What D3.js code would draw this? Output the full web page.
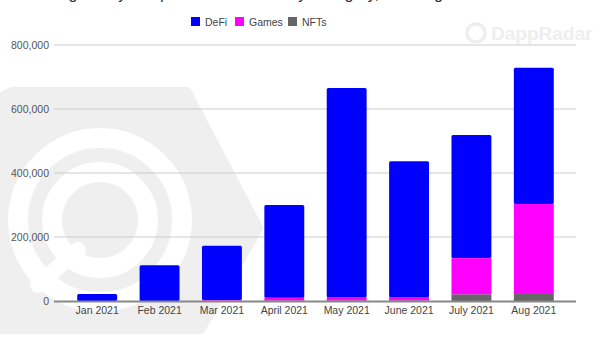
<!DOCTYPE html>
<html><head><meta charset="utf-8">
<script src="https://cdn.jsdelivr.net/npm/d3@7"></script>
<style>html,body{margin:0;padding:0;background:#fff;overflow:hidden}</style>
</head><body>
<svg id="c" width="600" height="341"></svg>
<script>
const months = ["Jan 2021","Feb 2021","Mar 2021","April 2021","May 2021","June 2021","July 2021","Aug 2021"];
const defi   = [22000,112000,170000,290000,654000,425000,385000,426000];
const games  = [0,0,2000,8000,10000,10000,113000,281000];
const nfts   = [0,0,1000,2000,2000,2000,21000,22000];
const seriesNames = ["NFTs","Games","DeFi"];
const legendNames = ["DeFi","Games","NFTs"];
const colors = {DeFi:"#0000ff", Games:"#ff00ff", NFTs:"#666666"};
const yTicks = [0,200000,400000,600000,800000];
const title = "Average Daily Unique Active Wallets by Category, Jan-Aug 2021";

const svg = d3.select("#c");
const font = "'Liberation Sans', Arial, sans-serif";

// watermark hexagon logo
const wm = svg.append("g");
wm.append("path")
  .attr("d","M12,93 L186,93 L257,228 L200,328 L-20,328 L-20,110 Z")
  .attr("fill","#efefef").attr("stroke","#efefef").attr("stroke-width",12).attr("stroke-linejoin","round");
wm.append("circle").attr("cx",100).attr("cy",220).attr("r",82).attr("fill","none").attr("stroke","#fff").attr("stroke-width",20);
wm.append("circle").attr("cx",100).attr("cy",220).attr("r",48).attr("fill","none").attr("stroke","#fff").attr("stroke-width",20);
wm.append("line").attr("x1",78).attr("y1",250).attr("x2",38).attr("y2",285).attr("stroke","#fff").attr("stroke-width",16).attr("stroke-linecap","round");
// top-right watermark
svg.append("circle").attr("cx",476).attr("cy",33).attr("r",9).attr("fill","none").attr("stroke","#eeeeee").attr("stroke-width",3.5);
svg.append("text").attr("x",491).attr("y",40).text("DappRadar")
  .attr("font-family",font).attr("font-weight","bold").attr("font-size",19).attr("fill","#eeeeee");

// title (cut off at top, as in the reference)
svg.append("text").attr("x",255).attr("y",-1).attr("text-anchor","middle")
  .attr("font-family",font).attr("font-size",16).attr("fill","#333").text(title);

const x = d3.scaleBand().domain(months).range([66,565]).paddingInner(0.36).paddingOuter(0.18);
const y = d3.scaleLinear().domain([0,800000]).range([301,45]);

// grid
svg.append("g").selectAll("line").data(yTicks.slice(1)).join("line")
  .attr("x1",54).attr("x2",576).attr("y1",d=>y(d)).attr("y2",d=>y(d))
  .attr("stroke","#cccccc").attr("stroke-width",1);

// y axis labels
const yAxis = svg.append("g").attr("transform","translate(54,0)")
  .call(d3.axisLeft(y).tickValues(yTicks).tickSize(0).tickPadding(5).tickFormat(d3.format(",")));
yAxis.select(".domain").remove();
yAxis.selectAll("text").attr("font-family",font).attr("font-size",10.5).attr("fill","#555");

// stacked bars
const data = months.map((m,i)=>({month:m, DeFi:defi[i], Games:games[i], NFTs:nfts[i]}));
const stack = d3.stack().keys(seriesNames)(data);
svg.append("g").selectAll("g").data(stack).join("g")
  .attr("fill",d=>colors[d.key])
  .selectAll("rect").data(d=>d.map(v=>({v,key:d.key}))).join("rect")
  .attr("x",d=>x(d.v.data.month))
  .attr("width",x.bandwidth())
  .attr("y",d=>y(d.v[1]))
  .attr("height",d=>Math.max(0,y(d.v[0])-y(d.v[1])))
  .attr("rx",d=>d.key==="DeFi"?1.5:0);

// baseline
svg.append("line").attr("x1",54).attr("x2",576).attr("y1",301.5).attr("y2",301.5)
  .attr("stroke","#888").attr("stroke-width",2);

// x axis labels
const xAxis = svg.append("g").attr("transform","translate(0,302)")
  .call(d3.axisBottom(x).tickSize(0).tickPadding(5));
xAxis.select(".domain").remove();
xAxis.selectAll("text").attr("font-family",font).attr("font-size",10.5).attr("fill","#444");

// legend
const lx = [191,235,288];
const lg = svg.append("g").selectAll("g").data(legendNames).join("g")
  .attr("transform",(d,i)=>`translate(${lx[i]},17)`);
lg.append("rect").attr("width",9).attr("height",9).attr("fill",d=>colors[d]);
lg.append("text").attr("x",14).attr("y",8.5).text(d=>d)
  .attr("font-family",font).attr("font-size",10.5).attr("fill","#444");
</script>
</body></html>
